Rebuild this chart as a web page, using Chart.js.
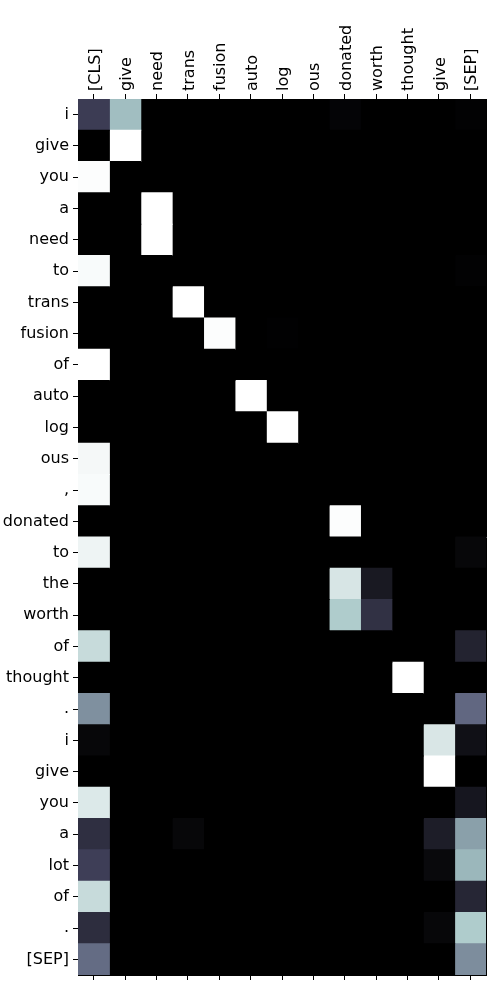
<!DOCTYPE html>
<html>
<head>
<meta charset="utf-8">
<script src="https://cdn.jsdelivr.net/npm/chart.js@4"></script>
<style>
  html, body { margin: 0; padding: 0; background: #fff; }
  #wrap { width: 500px; height: 1000px; }
</style>
</head>
<body>
<div id="wrap"><canvas id="c" width="500" height="1000"></canvas></div>
<script>
// Column (key) tokens, top axis
const colLabels = ['[CLS]', 'give', 'need', 'trans', 'fusion', 'auto', 'log', 'ous', 'donated', 'worth', 'thought', 'give', '[SEP]'];
// Row (query) tokens, left axis
const rowLabels = ['i', 'give', 'you', 'a', 'need', 'to', 'trans', 'fusion', 'of', 'auto', 'log', 'ous', ',', 'donated', 'to', 'the', 'worth', 'of', 'thought', '.', 'i', 'give', 'you', 'a', 'lot', 'of', '.', '[SEP]'];

// Attention weights, one array per column (28 rows each)
const colCLS     = [0.27,0,0.99,0,0,0.98,0,0,1,0,0,0.97,0.98,0,0.95,0,0,0.84,0,0.57,0.03,0,0.9,0.21,0.28,0.84,0.2,0.45];
const colGive    = [0.72,1,0,0,0,0,0,0,0,0,0,0,0,0,0,0,0,0,0,0,0,0,0,0,0,0,0,0];
const colNeed    = [0,0,0,1,1,0,0,0,0,0,0,0,0,0,0,0,0,0,0,0,0,0,0,0,0,0,0,0];
const colTrans   = [0,0,0,0,0,0,1,0,0,0,0,0,0,0,0,0,0,0,0,0,0,0,0,0.03,0,0,0,0];
const colFusion  = [0,0,0,0,0,0,0,0.99,0,0,0,0,0,0,0,0,0,0,0,0,0,0,0,0,0,0,0,0];
const colAuto    = [0,0,0,0,0,0,0,0,0,1,0,0,0,0,0,0,0,0,0,0,0,0,0,0,0,0,0,0];
const colLog     = [0,0,0,0,0,0,0,0.005,0,0,1,0,0,0,0,0,0,0,0,0,0,0,0,0,0,0,0,0];
const colOus     = [0,0,0,0,0,0,0,0,0,0,0,0,0,0,0,0,0,0,0,0,0,0,0,0,0,0,0,0];
const colDonated = [0.02,0,0,0,0,0,0,0,0,0,0,0,0,0.99,0,0.885,0.77,0,0,0,0,0,0,0,0,0,0,0];
const colWorth   = [0,0,0,0,0,0,0,0,0,0,0,0,0,0,0,0.11,0.22,0,0,0,0,0,0,0,0,0,0,0];
const colThought = [0,0,0,0,0,0,0,0,0,0,0,0,0,0,0,0,0,0,1,0,0,0,0,0,0,0,0,0];
const colGive2   = [0,0,0,0,0,0,0,0,0,0,0,0,0,0,0,0,0,0,0,0,0.89,1,0,0.13,0.04,0,0.03,0];
const colSEP     = [0.01,0,0,0,0,0.01,0,0,0,0,0,0,0,0,0.03,0,0,0.155,0,0.435,0.07,0,0.1,0.62,0.695,0.17,0.77,0.56];

const columns = [colCLS, colGive, colNeed, colTrans, colFusion, colAuto, colLog, colOus, colDonated, colWorth, colThought, colGive2, colSEP];

// matplotlib "bone" colormap
function interp(segs, x) {
  for (let i = 1; i < segs.length; i++) {
    if (x <= segs[i][0]) {
      const [x0, y0] = segs[i - 1], [x1, y1] = segs[i];
      return y0 + (y1 - y0) * (x - x0) / (x1 - x0);
    }
  }
  return segs[segs.length - 1][1];
}
const boneR = [[0, 0], [0.746032, 0.652778], [1, 1]];
const boneG = [[0, 0], [0.365079, 0.319444], [0.746032, 0.777778], [1, 1]];
const boneB = [[0, 0], [0.365079, 0.444444], [1, 1]];
function bone(v) {
  const x = Math.max(0, Math.min(1, v));
  const r = Math.round(255 * interp(boneR, x));
  const g = Math.round(255 * interp(boneG, x));
  const b = Math.round(255 * interp(boneB, x));
  return `rgb(${r},${g},${b})`;
}

const datasets = columns.map((vals, j) => ({
  label: colLabels[j],
  data: vals.map(() => [j - 0.5, j + 0.5]),
  backgroundColor: vals.map(v => bone(v)),
  borderWidth: 0,
  inflateAmount: 0.5,
  barPercentage: 1.0,
  categoryPercentage: 1.0,
  grouped: false,
  xAxisID: 'x',
  yAxisID: 'y'
}));

const FONT = { family: 'DejaVu Sans', size: 16 };
const intTicks = scale => { scale.ticks = colLabels.map((_, i) => ({ value: i })); };

new Chart(document.getElementById('c'), {
  type: 'bar',
  data: { labels: rowLabels, datasets },
  options: {
    indexAxis: 'y',
    responsive: false,
    animation: false,
    devicePixelRatio: 1,
    layout: { padding: { left: 0, right: 14, top: 0, bottom: 0 } },
    plugins: { legend: { display: false }, tooltip: { enabled: false } },
    scales: {
      x: {
        type: 'linear', position: 'top', min: -0.5, max: 12.5,
        afterBuildTicks: intTicks,
        afterFit: s => { s.height = 99; },
        ticks: {
          autoSkip: false, minRotation: 90, maxRotation: 90, padding: 3,
          labelOffset: 21,
          color: '#000', font: FONT,
          callback: v => colLabels[v]
        },
        grid: { drawOnChartArea: false, drawTicks: true, tickLength: 5, color: '#000', tickWidth: 1 },
        border: { display: true, color: '#000', width: 1 }
      },
      x2: {
        type: 'linear', position: 'bottom', min: -0.5, max: 12.5,
        afterBuildTicks: intTicks,
        afterFit: s => { s.height = 25; },
        ticks: { autoSkip: false, font: FONT, color: '#000', callback: () => '' },
        grid: { drawOnChartArea: false, drawTicks: true, tickLength: 5, color: '#000', tickWidth: 1 },
        border: { display: true, color: '#000', width: 1 }
      },
      y: {
        type: 'category', position: 'left', offset: true,
        afterFit: s => { s.width = 78; },
        ticks: { autoSkip: false, padding: 4, color: '#000', font: FONT },
        grid: { offset: false, drawOnChartArea: false, drawTicks: true, tickLength: 5, color: '#000', tickWidth: 1 },
        border: { display: true, color: '#000', width: 1 }
      },
      y2: {
        type: 'linear', position: 'right', min: 0, max: 1,
        afterFit: s => { s.width = 0; },
        ticks: { display: false },
        grid: { drawOnChartArea: false, drawTicks: false },
        border: { display: true, color: '#000', width: 1 }
      }
    }
  }
});
</script>
</body>
</html>
